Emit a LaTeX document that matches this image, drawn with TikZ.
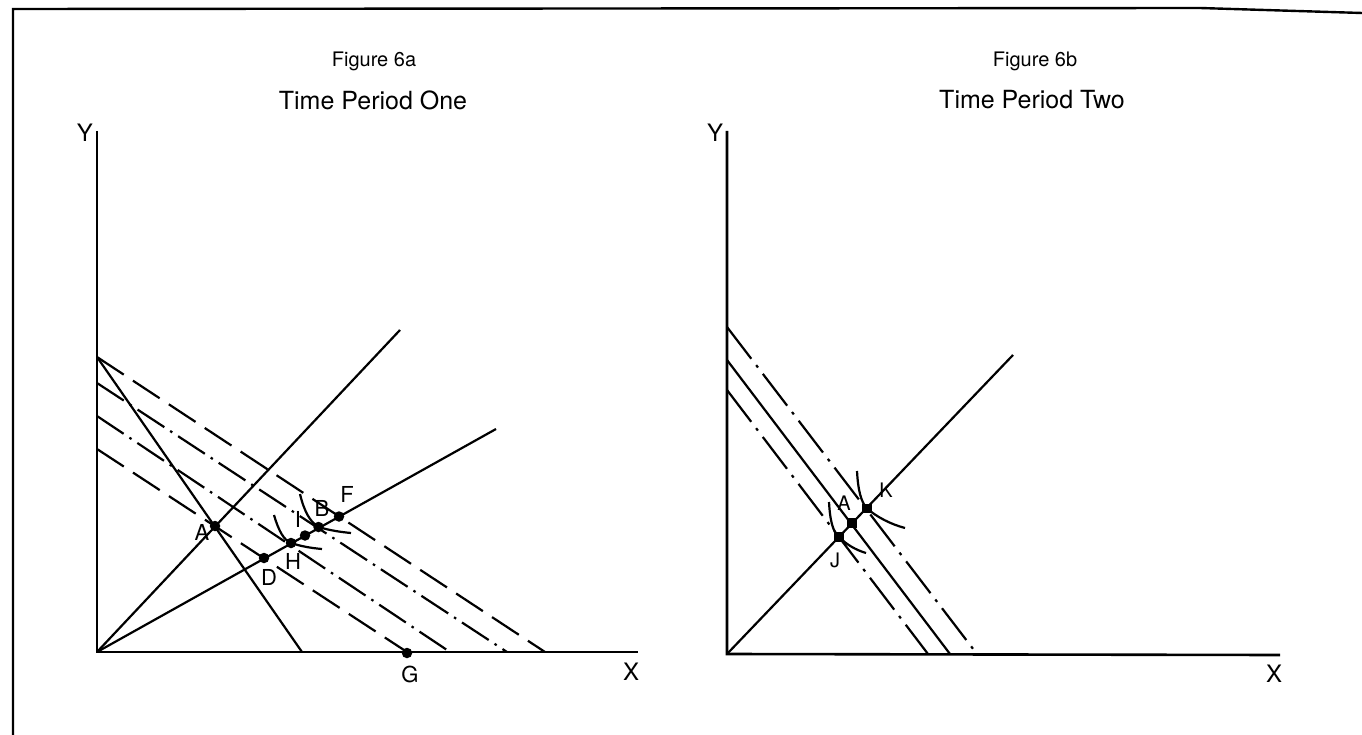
\documentclass[tikz,border=0pt]{standalone}
\usepackage{fontspec}
\setmainfont{TeX Gyre Heros}
\tikzset{
  ax/.style={line width=2.6pt},
  ln/.style={line width=2.2pt},
  ldash/.style={ln, dash pattern=on 32pt off 11pt},
  ddot/.style={ln, dash pattern=on 32pt off 7pt on 2.5pt off 7pt},
  ddotb/.style={ln, dash pattern=on 40pt off 8pt on 3pt off 8pt},
  dotpt/.style={circle, fill, inner sep=0pt, minimum size=10.5pt},
  sqpt/.style={rectangle, fill, inner sep=0pt, minimum size=9.5pt},
  lab/.style={inner sep=0pt, font=\fontsize{22}{26}\selectfont},
  labs/.style={inner sep=0pt, font=\fontsize{20}{24}\selectfont},
  axlab/.style={inner sep=0pt, font=\fontsize{24}{28}\selectfont},
  figt/.style={inner sep=0pt, font=\fontsize{20}{24}\selectfont},
  tpt/.style={inner sep=0pt, font=\fontsize{25}{30}\selectfont},
}
\begin{document}
\begin{tikzpicture}[x=1pt,y=-1pt]
\useasboundingbox (0,0) rectangle (1362,735);
% frame
\coordinate (fb) at (13,735);
\coordinate (ftl) at (13,9);
\coordinate (ftm) at (1200,8);
\coordinate (ftr) at (1362,13);
\draw[line width=2.4pt] (fb) -- (ftl) -- (ftm) -- (ftr);

% ---------- Figure 6a ----------
\node[figt] (t1) at (374,61) {Figure 6a};
\node[tpt] (t2) at (373,100) {Time Period One};
\coordinate (O) at (97,652);
\coordinate (Yt) at (97,131);
\coordinate (Xe) at (638,652);
\draw[ax] (Yt) -- (O) -- (Xe);
\node[axlab] (Ylab) at (85,133) {Y};
\node[axlab] (Xlab) at (631,672) {X};

\coordinate (L1a) at (97,357);  \coordinate (L1b) at (545,652);
\coordinate (Sb)  at (302,652);
\coordinate (L2a) at (97,383);  \coordinate (L2b) at (507,652);
\coordinate (L3a) at (97,416);  \coordinate (L3b) at (450,652);
\coordinate (L4a) at (97,449);  \coordinate (L4b) at (407,652);
\coordinate (R1) at (400,330);
\coordinate (R2) at (496,429);

\draw[ldash] (L1a) -- (L1b);
\draw[ln] (L1a) -- (Sb);
\draw[ddot] (L2a) -- (L2b);
\draw[ddot] (L3a) -- (L3b);
\draw[ldash] (L4a) -- (L4b);
\draw[ln] (O) -- (R1);
\draw[ln] (O) -- (R2);

\node[dotpt] (A) at (215,526) {};
\node[dotpt] (D) at (264,558) {};
\node[dotpt] (H) at (291,543) {};
\node[dotpt] (I) at (305,535.5) {};
\node[dotpt] (B) at (318.5,527) {};
\node[dotpt] (F) at (339,516.5) {};
\node[dotpt] (G) at (407,653) {};

\coordinate (h1) at (274,515);
\coordinate (h2) at (322,549);
\draw[ln] (h1) .. controls (279,532) and (284,540) .. (H.center)
          .. controls (300,546) and (310,548) .. (h2);
\coordinate (b1) at (300,494);
\coordinate (b2) at (351,533);
\draw[ln] (b1) .. controls (304,511) and (310,522) .. (B.center)
          .. controls (328,530) and (340,532) .. (b2);

\node[lab] (lA) at (202,532) {A};
\node[lab] (lB) at (322,508) {B};
\node[lab] (lD) at (269,577) {D};
\node[lab] (lF) at (347,494) {F};
\node[lab] (lH) at (293,561) {H};
\node[lab] (lI) at (298,519) {I};
\node[lab] (lG) at (410,674) {G};

% ---------- Figure 6b ----------
\node[figt] (t3) at (1035,61) {Figure 6b};
\node[tpt] (t4) at (1032,100) {Time Period Two};
\coordinate (O2) at (727,654);
\coordinate (Y2t) at (727,131);
\coordinate (X2e) at (1280,655);
\draw[ax] (Y2t) -- (O2) -- (X2e);
\node[axlab] (Ylab2) at (715,133) {Y};
\node[axlab] (Xlab2) at (1274,674) {X};

\coordinate (Ua) at (727,327);  \coordinate (Ub) at (977,654);
\coordinate (Sa) at (727,360);  \coordinate (Sb2) at (950,654);
\coordinate (Wa) at (727,390);  \coordinate (Wb) at (928,654);
\coordinate (R3) at (1013,355);

\draw[ddotb] (Ua) -- (Ub);
\draw[ln] (Sa) -- (Sb2);
\draw[ddotb] (Wa) -- (Wb);
\draw[ln] (O2) -- (R3);

\node[sqpt] (J) at (839,537) {};
\node[sqpt] (A2) at (852,523) {};
\node[sqpt] (K) at (867,508.5) {};

\coordinate (j1) at (829,502);
\coordinate (j2) at (866,553);
\draw[ln] (j1) .. controls (830,521) and (833,532) .. (J.center)
          .. controls (847,545) and (856,550) .. (j2);
\coordinate (k1) at (857,471);
\coordinate (k2) at (905,528);
\draw[ln] (k1) .. controls (858,490) and (861,502) .. (K.center)
          .. controls (877,517) and (890,524) .. (k2);

\node[labs] (lA2) at (844,503) {A};
\node[labs] (lK) at (886,490) {K};
\node[labs] (lJ) at (835,560) {J};
\end{tikzpicture}
\end{document}
